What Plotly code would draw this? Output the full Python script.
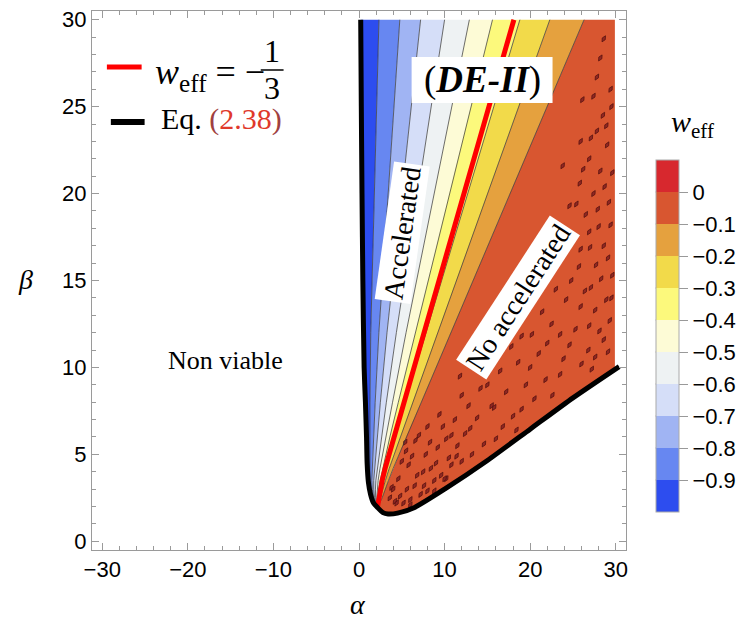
import numpy as np
import plotly.graph_objects as go

# ---------------- data ----------------
levels = [-1.0, -0.9, -0.8, -0.7, -0.6, -0.5, -0.4, -0.3, -0.2, -0.1, 0.0, 0.1]
band_colors = ["#2D4DEF", "#6787F1", "#A0B4F3", "#D5DEF8", "#EEF2F3", "#FDFBD6",
               "#FCF97C", "#F2DA4A", "#E5A13E", "#D85630", "#D7282E"]

# alpha where each interior contour meets beta = 30
contour_levels = [-0.9, -0.8, -0.7, -0.6, -0.5, -0.4, -0.3, -0.2, -0.1]
contour_top_alpha = [2.33, 4.77, 7.2, 10.0, 12.9, 15.6, 18.8, 22.3, 26.3]
red_level = -1 / 3
red_top_alpha = 18.1

# the w_eff = -0.1 contour, read along beta (from top to the meeting point P)
ref_beta = [30, 20, 12, 8, 6, 5, 4.2, 3.5, 3.0, 2.5, 1.95]
ref_alpha = [26.3, 17.65, 10.73, 7.27, 5.5, 4.67, 4.0, 3.45, 3.05, 2.7, 2.15]

# Eq. (2.38) boundary curve (left branch top -> bottom -> right branch)
bnd_alpha = [0.2, 0.27, 0.35, 0.45, 0.6, 0.75, 0.88, 0.95, 1.1, 1.35, 1.7, 2.15,
             2.8, 3.4, 4.5, 6.5, 10.0, 15.0, 20.0, 25.0, 30.4]
bnd_beta = [30.0, 25.0, 20.0, 15.0, 10.0, 8.0, 6.0, 4.5, 3.4, 2.7, 2.2, 1.95,
            1.65, 1.57, 1.62, 1.95, 3.0, 4.65, 6.45, 8.25, 10.05]
P_index = 11  # meeting point of all contours on the boundary
alpha_edge = 29.9
beta_top = 30.0

# small numerical-noise spots (w_eff ~ 0) seen in the non-accelerated region
speck_alpha = [28.6, 28.2, 27.8, 27.4, 28.5, 27.8, 29.0, 26.9, 28.2, 25.8, 27.4, 29.2,
               26.5, 28.0, 24.9, 27.0, 29.1, 25.7, 28.3, 26.4, 24.2, 27.6, 29.3, 25.3,
               28.6, 26.8, 22.5, 21.0, 23.5, 19.5, 17.8, 15.5, 18.0, 13.0, 16.5, 20.5,
               14.2, 11.5, 12.8, 9.0, 7.5, 10.5, 6.5, 8.3, 5.8, 4.8, 9.8, 7.0, 11.8,
               6.0, 8.8, 5.5, 23.0, 24.6, 22.0, 25.9, 21.4, 19.0, 16.0, 14.8, 12.0,
               10.2, 8.0, 4.2, 3.8, 29.4, 29.5, 27.2, 26.1, 23.8,
               29.5, 28.9, 27.1, 29.6, 26.2, 28.7, 27.9, 25.4, 29.4, 26.9, 28.6, 25.9,
               27.7, 29.6, 24.8, 27.1, 28.9, 25.9, 26.9, 28.1, 24.6, 29.1, 27.6, 26.0, 23.5,
               22.0, 20.2, 18.6, 21.8, 23.9, 17.2, 19.0, 22.6, 15.0, 13.8, 16.8, 18.4,
               12.4, 14.6, 20.0, 11.2, 13.2, 15.8, 10.8, 12.0,
               4.0, 4.6, 5.2, 5.6, 6.2, 6.8, 7.2, 7.8, 8.4, 9.2, 9.6, 10.2, 10.8, 11.4,
               6.6, 8.0, 9.4, 5.0, 4.4, 6.0, 7.6, 8.8, 10.0, 3.6, 5.4]
speck_beta = [28.9, 27.8, 26.7, 25.6, 24.5, 23.6, 22.8, 22.0, 21.3, 20.6, 20.0, 19.5,
              18.8, 18.1, 17.6, 16.9, 16.3, 15.8, 15.1, 14.4, 13.9, 13.3, 12.7, 12.2,
              11.6, 11.0, 12.5, 10.8, 9.6, 9.0, 11.2, 7.8, 7.2, 6.5, 9.8, 8.2,
              8.8, 5.5, 7.8, 4.5, 4.0, 4.8, 3.2, 5.7, 4.4, 2.6, 6.6, 6.1, 9.5,
              2.4, 3.5, 5.2, 14.5, 19.3, 16.0, 23.0, 13.2, 11.8, 5.9, 10.6, 4.6,
              3.6, 2.9, 2.3, 3.1, 26.0, 14.0, 9.9, 25.4, 21.6,
              25.0, 23.9, 23.2, 21.2, 21.4, 20.4, 19.1, 19.4, 18.2, 17.8, 17.0, 16.8,
              15.9, 15.3, 15.0, 14.6, 13.9, 13.5, 12.4, 12.1, 11.3, 10.9, 10.6, 10.2, 11.9,
              11.4, 11.9, 10.3, 9.3, 10.5, 8.6, 7.6, 8.4, 9.0, 7.1, 6.6, 6.4,
              6.2, 5.6, 10.0, 7.0, 5.0, 7.7, 6.1, 8.4,
              3.0, 3.6, 2.2, 3.0, 4.9, 3.8, 2.7, 5.0, 4.2, 5.4, 3.8, 5.9, 4.4, 4.9,
              5.8, 6.6, 7.3, 4.6, 2.2, 2.1, 3.2, 2.9, 3.6, 2.5, 5.7]

cbar_ticks = [0, -0.1, -0.2, -0.3, -0.4, -0.5, -0.6, -0.7, -0.8, -0.9]

# ---------------- geometry built from the data ----------------
left_a = np.array(bnd_alpha[:P_index + 1])
left_b = np.array(bnd_beta[:P_index + 1])
order = np.argsort(left_b)
Lref = np.interp(ref_beta, left_b[order], left_a[order])
Aref = np.array(ref_alpha)


def contour_curve(top_alpha):
    f = (top_alpha - Lref[0]) / (Aref[0] - Lref[0])
    return Lref + f * (Aref - Lref)


curves = [contour_curve(a) for a in contour_top_alpha]
red_curve = contour_curve(red_top_alpha)
rb = np.array(ref_beta)

fig = go.Figure()

# band -1 .. -0.9
xs = list(left_a[::-1]) + list(curves[0])
ys = list(left_b[::-1]) + list(rb)
fig.add_trace(go.Scatter(x=xs, y=ys, fill="toself", fillcolor=band_colors[0],
                         mode="lines", line=dict(width=0), hoverinfo="skip"))
# interior bands
for i in range(len(curves) - 1):
    xs = list(curves[i][::-1]) + list(curves[i + 1])
    ys = list(rb[::-1]) + list(rb)
    fig.add_trace(go.Scatter(x=xs, y=ys, fill="toself", fillcolor=band_colors[i + 1],
                             mode="lines", line=dict(width=0), hoverinfo="skip"))
# band -0.1 .. 0
right_a = [a for a in bnd_alpha[P_index:] if a <= alpha_edge]
right_b = [b for a, b in zip(bnd_alpha[P_index:], bnd_beta[P_index:]) if a <= alpha_edge]
b_edge = float(np.interp(alpha_edge, bnd_alpha[P_index:], bnd_beta[P_index:]))
xs = list(curves[-1][::-1]) + [alpha_edge, alpha_edge] + right_a[::-1]
ys = list(rb[::-1]) + [beta_top, b_edge] + right_b[::-1]
fig.add_trace(go.Scatter(x=xs, y=ys, fill="toself", fillcolor=band_colors[9],
                         mode="lines", line=dict(width=0), hoverinfo="skip"))

# noise spots
fig.add_trace(go.Scatter(x=speck_alpha, y=speck_beta, mode="markers", hoverinfo="skip",
                         marker=dict(size=5, symbol="diamond-tall", angle=30,
                                     color="#8A2222",
                                     line=dict(color="#4a0c0c", width=0.8), opacity=0.9)))

# contour lines
for c in curves:
    fig.add_trace(go.Scatter(x=c, y=rb, mode="lines",
                             line=dict(color="rgba(60,60,60,0.75)", width=1),
                             hoverinfo="skip"))
# w_eff = -1/3
fig.add_trace(go.Scatter(x=red_curve, y=rb, mode="lines",
                         line=dict(color="#FF0000", width=5), hoverinfo="skip"))
# boundary Eq. (2.38)
fig.add_trace(go.Scatter(x=bnd_alpha, y=bnd_beta, mode="lines",
                         line=dict(color="black", width=5, shape="spline", smoothing=0.6),
                         hoverinfo="skip"))

# colorbar carrier
cs = []
for i, c in enumerate(band_colors):
    cs.append([i / 11, c])
    cs.append([(i + 1) / 11, c])
fig.add_trace(go.Scatter(
    x=[-100, -100], y=[-100, -100], mode="markers", hoverinfo="skip",
    marker=dict(size=1, color=[-1, 0.1], cmin=-1, cmax=0.1, colorscale=cs,
                showscale=True,
                colorbar=dict(x=(660 - 92) / 538, xanchor="left", xpad=0,
                              y=1 - (336 - 11) / 539, yanchor="middle", ypad=0,
                              len=352, lenmode="pixels", thickness=23,
                              thicknessmode="pixels",
                              outlinewidth=1, outlinecolor="#aaaaaa",
                              tickvals=cbar_ticks,
                              ticktext=["0" if t == 0 else "\u2212" + f"{abs(t):.1f}" for t in cbar_ticks],
                              ticks="outside", ticklen=9, tickcolor="#999999",
                              tickfont=dict(family="Liberation Sans", size=22, color="black"))),
))


def px(x):
    return (x - 92) / 538


def py(y):
    return 1 - (y - 11) / 539


shapes = []
# colorbar band separators
for v in levels[1:-1]:
    yy = 512 - (v + 1) / 1.1 * 352
    shapes.append(dict(type="line", xref="paper", yref="paper", x0=px(660), x1=px(683),
                       y0=py(yy), y1=py(yy), line=dict(color="#4a3a3a", width=1)))
# legend lines
shapes.append(dict(type="line", xref="paper", yref="paper", x0=px(107), x1=px(142),
                   y0=py(67), y1=py(67), line=dict(color="#FF0000", width=5)))
shapes.append(dict(type="line", xref="paper", yref="paper", x0=px(111), x1=px(145),
                   y0=py(122), y1=py(122), line=dict(color="black", width=6)))
# fraction bar
shapes.append(dict(type="line", xref="paper", yref="paper", x0=px(262), x1=px(285),
                   y0=py(70), y1=py(70), line=dict(color="black", width=1.5)))
# (DE-II) white box
shapes.append(dict(type="rect", xref="paper", yref="paper", x0=px(414), x1=px(556),
                   y0=py(57), y1=py(103), fillcolor="white", line=dict(width=0)))

serif = "Liberation Serif"
ann = []


def add_text(text, x, y, size, xanchor="center", yanchor="middle", **kw):
    ann.append(dict(text=text, xref="paper", yref="paper", x=px(x), y=py(y),
                    xanchor=xanchor, yanchor=yanchor, showarrow=False,
                    font=dict(family=serif, size=size, color=kw.pop("color", "black")), **kw))


add_text("<i>w</i><sub>eff</sub> = \u2212", 153, 74, 36, xanchor="left")
add_text("1", 273, 51, 32)
add_text("3", 273, 88, 32)
add_text("Eq. <span style='color:#A04040'>(</span><span style='color:#E0392B'>2.38</span>"
         "<span style='color:#A04040'>)</span>", 160, 119, 30, xanchor="left")
add_text("(<b><i>DE-II</i></b>)", 485, 80, 37)
add_text("Accelerated", 404, 233, 28, textangle=-82, bgcolor="white", borderpad=2)
add_text("No accelerated", 521, 297, 28, textangle=-57, bgcolor="white", borderpad=2)
add_text("Non viable", 226, 360, 26)
add_text("<i>w</i><sub>eff</sub>", 697, 124, 30)
add_text("<i>\u03b1</i>", 360, 605, 28)
add_text("<i>\u03b2</i>", 25, 280, 28)

axis_common = dict(showgrid=False, zeroline=False, showline=True, linecolor="#9a9a9a",
                   linewidth=1, mirror="allticks", ticks="inside", ticklen=7,
                   tickcolor="#9a9a9a", tickwidth=1, automargin=False,
                   tickfont=dict(family="Liberation Sans", size=22, color="black"))

fig.update_layout(
    width=748, height=629, autosize=False,
    margin=dict(l=92, r=118, t=11, b=79),
    paper_bgcolor="white", plot_bgcolor="white",
    showlegend=False,
    xaxis=dict(range=[-31.2, 31.2], tickvals=[-30, -20, -10, 0, 10, 20, 30],
               minor=dict(ticks="inside", ticklen=4, dtick=2, tickcolor="#9a9a9a"),
               **axis_common),
    yaxis=dict(range=[-0.5, 30.5], tickvals=[0, 5, 10, 15, 20, 25, 30],
               minor=dict(ticks="inside", ticklen=4, dtick=1, tickcolor="#9a9a9a"),
               **axis_common),
    shapes=shapes, annotations=ann,
)

fig.write_html("out.html", config={"displayModeBar": False},
               post_script="document.body.style.margin='0px';")
